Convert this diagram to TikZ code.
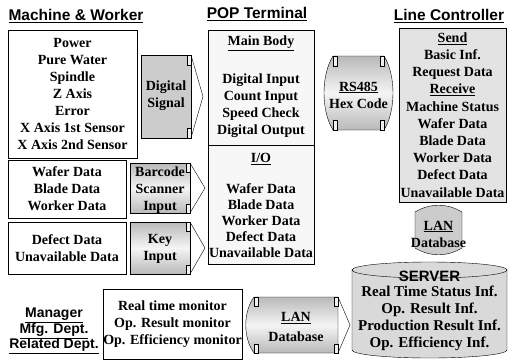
\documentclass[tikz,border=0pt]{standalone}
\usepackage{fontspec}
\setmainfont{Liberation Serif}
\setsansfont{Liberation Sans}

\begin{document}
\begin{tikzpicture}[x=1pt, y=-1pt,
        title/.style={font=\sffamily\bfseries\fontsize{15.5}{18}\selectfont, inner sep=0pt},
        txt/.style={font=\bfseries\fontsize{14}{17}\selectfont, align=center, inner sep=0pt},
        plainbox/.style={rectangle, draw, fill=white, txt},
        popbox/.style={rectangle, draw, fill=gray!6},
        lcbox/.style={rectangle, draw, fill=gray!22, txt, font=\bfseries\fontsize{14}{17.2}\selectfont},
        curl/.style={draw, top color=gray!55, bottom color=gray!55, middle color=gray!8},
        darkcurl/.style={draw, fill=gray!40},
        curltab/.style={draw, fill=gray!12},
        serverfill/.style={draw, fill=gray!30}]

        \useasboundingbox (0,0) rectangle (510,361);

        % Titles
        \node[title] (mwtitle) at (76,16) {\underline{Machine \& Worker}};
        \node[title] (poptitle) at (257,14) {\underline{POP Terminal}};
        \node[title] (lctitle) at (449,16) {\underline{Line Controller}};

        % Machine & Worker column
        \node[plainbox, minimum width=129, minimum height=128] (sensors) at (72.5,94) {Power\\Pure Water\\Spindle\\Z Axis\\Error\\X Axis 1st Sensor\\X Axis 2nd Sensor};
        \node[plainbox, minimum width=118, minimum height=58] (scanned) at (67,189) {Wafer Data\\Blade Data\\Worker Data};
        \node[plainbox, minimum width=118, minimum height=52] (keyed) at (67,248) {Defect Data\\Unavailable Data};

        % Input arrows
        \path[darkcurl] (141,55) rectangle (191,138);
        \path[curltab] (187,55) rectangle (191,65);
        \path[curltab] (187,128) rectangle (191,138);
        \draw (191,55) -- (203,96.5) -- (191,138);
        \node[txt] (digital) at (166,96) {Digital\\Signal};

        \path[curl] (130,163) rectangle (190,213);
        \path[curltab] (186,163) rectangle (190,172);
        \path[curltab] (186,204) rectangle (190,213);
        \draw (190,163) -- (205,188) -- (190,213);
        \node[txt] (barcode) at (160,190) {Barcode\\Scanner\\Input};

        \path[curl] (130,222) rectangle (190,274);
        \path[curltab] (186,222) rectangle (190,231);
        \path[curltab] (186,265) rectangle (190,274);
        \draw (190,222) -- (205,248) -- (190,274);
        \node[txt] (key) at (160,249) {Key\\Input};

        % POP Terminal
        \node[popbox, minimum width=106, minimum height=234] (pop) at (261,147) {};
        \draw (pop.west |- 0,145) -- (pop.east |- 0,145);
        \node[txt] (mainbody) at (261,43) {\underline{Main Body}};
        \node[txt] (mainio) at (261,106) {Digital Input\\Count Input\\Speed Check\\Digital Output};
        \node[txt] (io) at (261,159) {\underline{I/O}};
        \node[txt, font=\bfseries\fontsize{14}{16}\selectfont] (iodata) at (261,221) {Wafer Data\\Blade Data\\Worker Data\\Defect Data\\Unavailable Data};

        % RS485 link
        \path[curl] (333,56) -- (384,56) .. controls (396,75) and (396,111) .. (384,130) -- (333,130) .. controls (321,111) and (321,75) .. cycle;
        \path[curltab] (333,56) rectangle (337,66);
        \path[curltab] (380,56) rectangle (384,66);
        \path[curltab] (333,120) rectangle (337,130);
        \path[curltab] (380,120) rectangle (384,130);
        \node[txt] (rs485) at (358.5,95) {\underline{RS485}\\Hex Code};

        % Line Controller
        \node[lcbox, minimum width=107, minimum height=174] (lc) at (452.5,115) {\underline{Send}\\Basic Inf.\\Request Data\\\underline{Receive}\\Machine Status\\Wafer Data\\Blade Data\\Worker Data\\Defect Data\\Unavailable Data};

        % LAN to server
        \path[darkcurl] (415,212) .. controls (430,203) and (447,203) .. (462,212) -- (462,248) .. controls (447,257) and (430,257) .. (415,248) -- cycle;
        \node[txt] (lanup) at (438.5,234) {\underline{LAN}\\Database};

        % Server
        \path[serverfill] (352,270) -- (352,350) arc[start angle=180, end angle=0, x radius=77.5, y radius=8] -- (507,270) -- cycle;
        \path[serverfill] (429.5,270) ellipse[x radius=77.5, y radius=8];
        \node[txt, font=\sffamily\bfseries\fontsize{15}{18}\selectfont] (server) at (429.5,276) {SERVER};
        \node[txt, font=\bfseries\fontsize{15}{17}\selectfont] (serverinf) at (429.5,318) {Real Time Status Inf.\\Op. Result Inf.\\Production Result Inf.\\Op. Efficiency Inf.};

        % Monitoring
        \node[plainbox, minimum width=137, minimum height=70] (monitor) at (172.5,324) {Real time monitor\\Op. Result monitor\\Op. Efficiency monitor};
        \node[txt, font=\sffamily\bfseries\fontsize{14}{15.5}\selectfont] (users) at (54,331) {\underline{Manager}\\\underline{Mfg. Dept.}\\\underline{Related Dept.}};

        \path[curl] (254,297) -- (338,297) -- (338,353) -- (254,353) .. controls (243,338) and (243,312) .. cycle;
        \path[curltab] (254,297) rectangle (258,306);
        \path[curltab] (334,297) rectangle (338,306);
        \path[curltab] (254,344) rectangle (258,353);
        \path[curltab] (334,344) rectangle (338,353);
        \draw (338,297) -- (350,325) -- (338,353);
        \node[txt] (lanside) at (296,327) {\underline{LAN}\\[3pt]Database};
    \end{tikzpicture}
\end{document}
